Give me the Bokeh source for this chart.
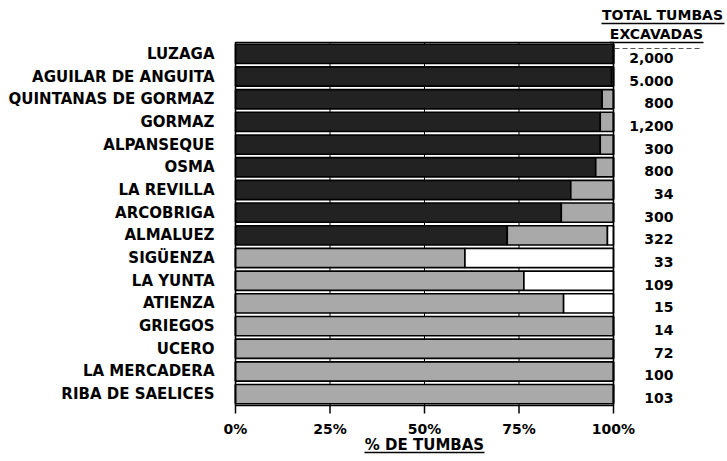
from bokeh.plotting import figure
from bokeh.models import ColumnDataSource, Range1d, FixedTicker
from bokeh.core.properties import value
from bokeh.embed import file_html
from bokeh.resources import INLINE

# ---- data ----
sites = ["LUZAGA", "AGUILAR DE ANGUITA", "QUINTANAS DE GORMAZ", "GORMAZ", "ALPANSEQUE",
         "OSMA", "LA REVILLA", "ARCOBRIGA", "ALMALUEZ", "SIGÜENZA", "LA YUNTA",
         "ATIENZA", "GRIEGOS", "UCERO", "LA MERCADERA", "RIBA DE SAELICES"]
dark_pct = [100, 99.5, 97, 96.5, 96.5, 95.3, 88.7, 86.2, 71.9, 0, 0, 0, 0, 0, 0, 0]
gray_pct = [0, 0.5, 3, 3.5, 3.5, 4.7, 11.3, 13.8, 26.5, 60.7, 76.3, 86.8, 100, 100, 100, 100]
white_pct = [0, 0, 0, 0, 0, 0, 0, 0, 1.6, 39.3, 23.7, 13.2, 0, 0, 0, 0]
totals = ["2,000", "5.000", "800", "1,200", "300", "800", "34", "300", "322",
          "33", "109", "15", "14", "72", "100", "103"]
x_ticks = [0, 25, 50, 75, 100]
x_tick_labels = ["0%", "25%", "50%", "75%", "100%"]
x_title = "% DE TUMBAS"
header_1 = "TOTAL TUMBAS"
header_2 = "EXCAVADAS"

FONT = "DejaVu Sans"
W, H = 727, 461
n = len(sites)
ys = [n - 1 - i for i in range(n)]

# layout helpers: pixel position on the canvas -> data coordinate
FRAME_L, FRAME_R, FRAME_T, FRAME_B = 235, 613, 42, 405
PX_X = (FRAME_R - FRAME_L) / 100.0
PX_Y = (FRAME_B - FRAME_T) / float(n)


def X(px):
    return (px - FRAME_L) / PX_X


def Y(py):
    return (n - 0.5) - (py - FRAME_T) / PX_Y


LEFT_BORDER = 219
p = figure(width=W, height=H, output_backend="svg", toolbar_location=None,
           x_axis_location=None,
           x_range=Range1d(X(LEFT_BORDER), X(W)), y_range=Range1d(Y(H), Y(0)),
           min_border_left=LEFT_BORDER, min_border_right=0, min_border_top=0,
           min_border_bottom=0)
p.background_fill_color = "white"
p.border_fill_color = "white"
p.outline_line_color = None
p.xgrid.visible = False
p.ygrid.visible = False

# category axis (left)
p.yaxis.ticker = FixedTicker(ticks=ys)
p.yaxis.major_label_overrides = {y: s for y, s in zip(ys, sites)}
p.yaxis.major_tick_out = 0
p.yaxis.major_tick_in = 0
p.yaxis.minor_tick_line_color = None
p.yaxis.axis_line_color = None
p.yaxis.major_label_standoff = 5
p.yaxis.major_label_text_font = FONT
p.yaxis.major_label_text_font_style = "bold"
p.yaxis.major_label_text_font_size = "15px"
p.yaxis.major_label_text_color = "black"

y_lo, y_hi = -0.5, n - 0.5

# vertical grid lines at the percentage ticks
p.segment(x0=x_ticks, y0=[y_lo] * len(x_ticks), x1=x_ticks, y1=[y_hi] * len(x_ticks),
          line_color="black", line_width=1)

source = ColumnDataSource(dict(y=ys, dark=dark_pct, gray=gray_pct, white=white_pct))
p.hbar_stack(["dark", "gray", "white"], y="y", height=0.85,
             color=["#222222", "#a9a9a9", "#ffffff"],
             line_color="black", line_width=1.6, source=source)

# plot frame
p.quad(left=[x_ticks[0]], right=[x_ticks[-1]], bottom=[y_lo], top=[y_hi],
       fill_color=None, line_color="black", line_width=1.6)

# x ticks and labels
p.segment(x0=x_ticks, y0=[y_lo] * len(x_ticks), x1=x_ticks,
          y1=[Y(FRAME_B + 8)] * len(x_ticks), line_color="black", line_width=1.5)
p.text(x=x_ticks, y=[Y(428)] * len(x_ticks), text=x_tick_labels,
       text_align="center", text_baseline="middle", text_font=value(FONT),
       text_font_style="bold", text_font_size="14px", text_color="black")

# x title with underline
p.text(x=[50], y=[Y(444)], text=[x_title], text_align="center", text_baseline="middle",
       text_font=value(FONT), text_font_style="bold", text_font_size="15px",
       text_color="black")
p.segment(x0=[X(364)], y0=[Y(452)], x1=[X(484)], y1=[Y(452)],
          line_color="black", line_width=1.5)

# totals column
p.text(x=[X(673)] * n, y=[v - 4 / PX_Y for v in ys], text=totals,
       text_align="right", text_baseline="middle", text_font=value(FONT),
       text_font_style="bold", text_font_size="14px", text_color="black")

# header of totals column
p.text(x=[X(662)], y=[Y(14)], text=[header_1], text_align="center",
       text_baseline="middle", text_font=value(FONT), text_font_style="bold",
       text_font_size="14px", text_color="black")
p.segment(x0=[X(601)], y0=[Y(23)], x1=[X(724)], y1=[Y(23)],
          line_color="black", line_width=1.5)
p.text(x=[X(656)], y=[Y(33)], text=[header_2], text_align="center",
       text_baseline="middle", text_font=value(FONT), text_font_style="bold",
       text_font_size="14px", text_color="black")
p.segment(x0=[X(609)], y0=[Y(42)], x1=[X(703)], y1=[Y(42)],
          line_color="black", line_width=1.5)
p.segment(x0=[X(614)], y0=[Y(48)], x1=[X(700)], y1=[Y(48)],
          line_color="#555555", line_width=1, line_dash="5 3")

open("out.html", "w").write(file_html(p, INLINE))
